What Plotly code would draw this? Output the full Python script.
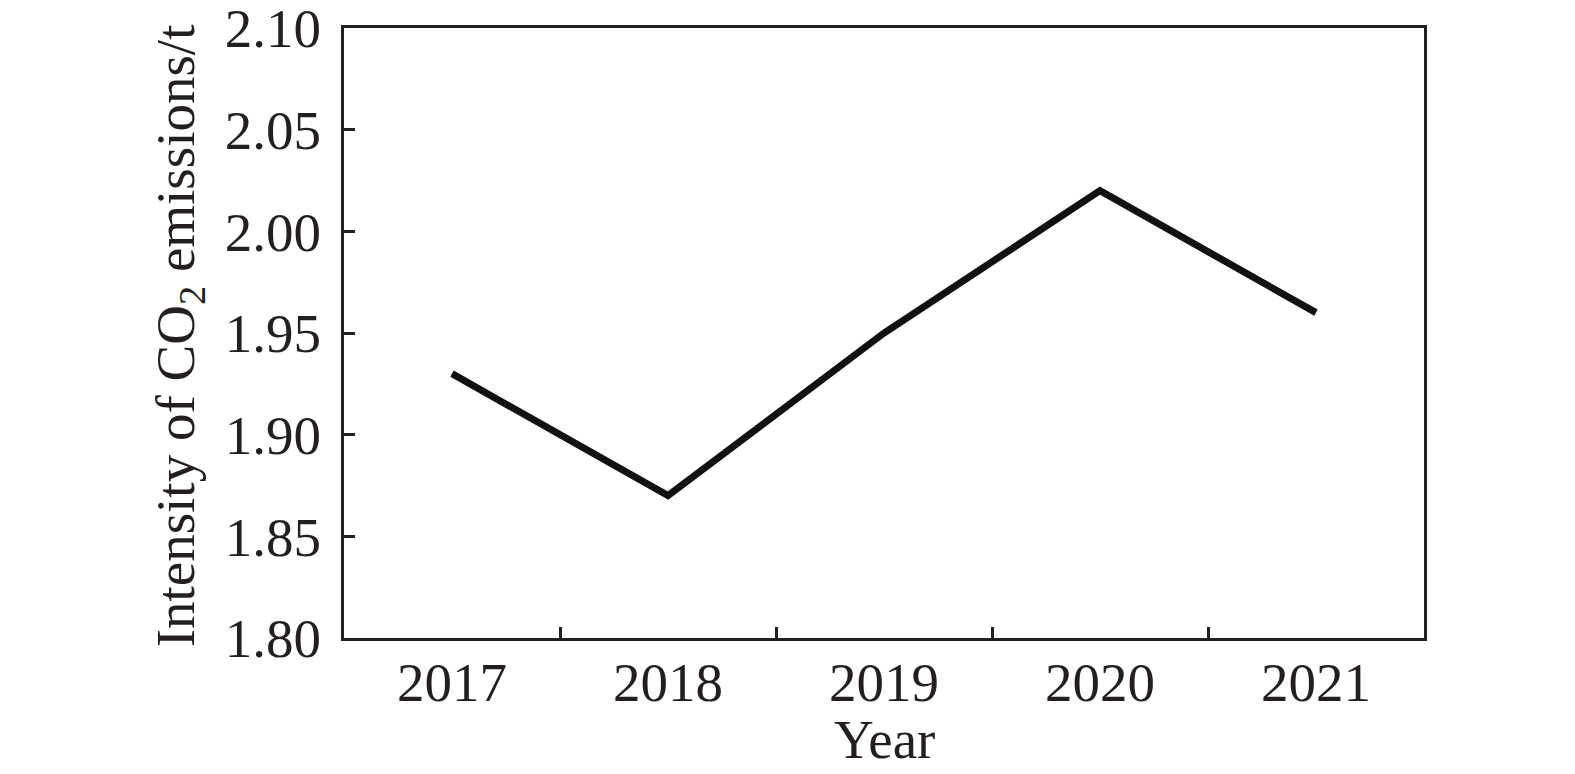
import plotly.graph_objects as go

years = ["2017", "2018", "2019", "2020", "2021"]
intensity = [1.93, 1.87, 1.95, 2.02, 1.96]
y_ticks = [1.80, 1.85, 1.90, 1.95, 2.00, 2.05, 2.10]
y_tick_labels = ["1.80", "1.85", "1.90", "1.95", "2.00", "2.05", "2.10"]

FONT = "Liberation Serif, Times New Roman, serif"
INK = "#231f20"
FS = 55

W, H = 1575, 774
OFF = 6  # page offset of the figure div
# desired plot area in page pixels
PL, PR, PT, PB = 341.5, 1422, 26, 636.5
L, R, T, B = PL - OFF, W - (PR - OFF), PT - OFF, H - (PB - OFF)
PW, PH = PR - PL, PB - PT

fig = go.Figure()
fig.add_trace(go.Scatter(
    x=years, y=intensity, mode="lines",
    line=dict(color="#111111", width=7),
    showlegend=False,
))

fig.update_layout(
    width=W, height=H,
    margin=dict(l=L, r=R, t=T, b=B, autoexpand=False),
    paper_bgcolor="white", plot_bgcolor="white",
    font=dict(family=FONT, size=FS, color=INK),
)
fig.update_xaxes(
    type="category", range=[-0.5, 4.5], automargin=False,
    showline=True, linecolor=INK, linewidth=3, mirror=True,
    ticks="inside", ticklen=11, tickwidth=2.5, tickcolor=INK,
    tickson="boundaries",
    showgrid=False, zeroline=False,
    tickfont=dict(family=FONT, size=FS, color=INK),
    ticklabelstandoff=-6,
    ticklabeloverflow="allow",
)
fig.update_yaxes(
    range=[1.80, 2.10], automargin=False,
    tickvals=y_ticks, ticktext=y_tick_labels,
    showline=True, linecolor=INK, linewidth=3, mirror=True,
    ticks="inside", ticklen=11, tickwidth=2.5, tickcolor=INK,
    showgrid=False, zeroline=False,
    tickfont=dict(family=FONT, size=FS, color=INK),
    ticklabelstandoff=9,
    ticklabeloverflow="allow",
)

# axis titles as annotations placed relative to the plot area
fig.add_annotation(
    text="Year", xref="paper", yref="paper",
    x=0.5, y=-(738 - PB) / PH, xanchor="center", yanchor="middle",
    showarrow=False, font=dict(family=FONT, size=FS, color=INK),
)
fig.add_annotation(
    text="Intensity of CO<sub>2</sub> emissions/t", xref="paper", yref="paper",
    x=-(PL - 177) / PW, y=0.5 + ((PT + PB) / 2 - 334) / PH,
    xanchor="center", yanchor="middle", textangle=-90,
    showarrow=False, font=dict(family=FONT, size=FS, color=INK),
)

fig.write_html("out.html")
